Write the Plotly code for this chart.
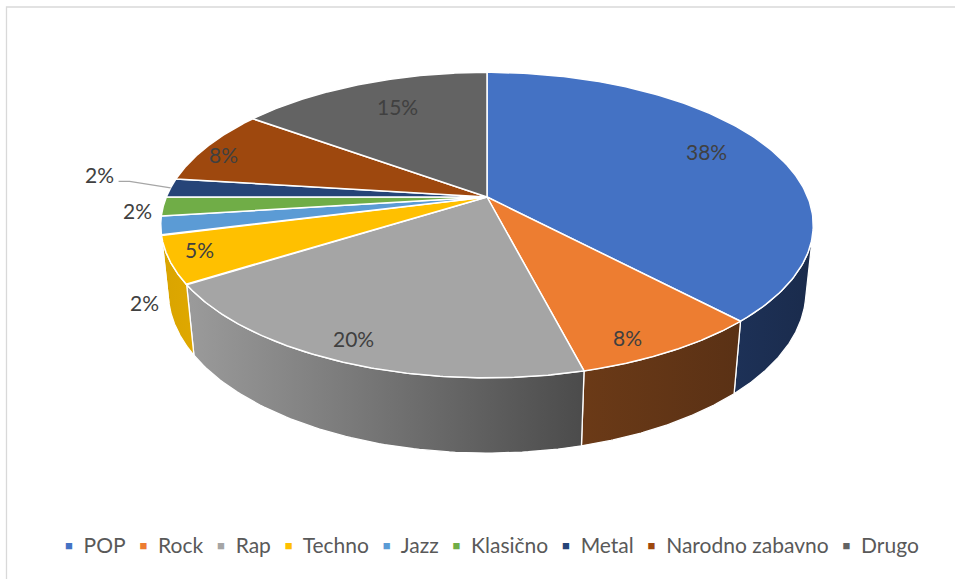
import numpy as np
import plotly.graph_objects as go

# ---- data -------------------------------------------------------------
categories = ["POP", "Rock", "Rap", "Techno", "Jazz", "Klasično", "Metal",
              "Narodno zabavno", "Drugo"]
shares = [38, 8, 20, 5, 2, 2, 2, 8, 15]

# ---- style ------------------------------------------------------------
top_colors = ["#4472C4", "#ED7D31", "#A5A5A5", "#FFC000", "#5B9BD5",
              "#70AD47", "#264478", "#9E480E", "#636363"]
# shaded outer rim of each slice (left -> right gradient)
wall_colors = [("#1d3157", "#1a2b4c"), ("#6b3a17", "#5a3115"),
               ("#9b9b9b", "#4b4b4b"), ("#d9a400", "#dfa800"),
               ("#4f86b9", "#4f86b9"), ("#5f963c", "#5f963c"),
               ("#1f3862", "#1f3862"), ("#843c0b", "#843c0b"),
               ("#525252", "#525252")]

# label placement: radius on the top face plus a small pixel nudge
label_place = {
    "POP": (0.82, -12, -3), "Rock": (0.82, -5, 18), "Rap": (0.82, -21, 11),
    "Techno": (0.82, -31, 1), "Jazz": (1.0, -16, 77), "Klasično": (1.0, -26, 4),
    "Metal": (1.0, -71, -13), "Narodno zabavno": (0.82, -32, 0),
    "Drugo": (0.82, 16, 5),
}

W, H = 955, 579
CX, CY = 487, 197          # screen position of the pie centre
TILT = np.radians(27.4)    # viewing elevation
DIST = 4.83                # camera distance (in radius units)
FOCAL = 1549               # projection scale
THICK = 0.236              # pie thickness (in radius units)
COS_T, SIN_T = np.cos(TILT), np.sin(TILT)


def project(r, phi, y=0.0):
    """Perspective projection of a point on the pie (phi clockwise from 12 o'clock)."""
    x3 = r * np.sin(phi)
    z3 = -r * np.cos(phi)
    depth = z3 * COS_T + y * SIN_T
    up = y * COS_T - z3 * SIN_T
    k = FOCAL / (DIST - depth)
    return CX + x3 * k, CY - up * k


total = float(sum(shares))
bounds = np.concatenate([[0.0], np.cumsum(shares) / total]) * 2 * np.pi

# outer wall is visible where its normal faces the camera
vis_lo = np.arccos(-1.0 / (DIST * COS_T))
vis_hi = 2 * np.pi - vis_lo

fig = go.Figure()

# outer walls
for i, name in enumerate(categories):
    a0, a1 = max(bounds[i], vis_lo), min(bounds[i + 1], vis_hi)
    if a1 <= a0:
        continue
    t = np.linspace(a0, a1, 80)
    xt, yt = project(1.0, t)
    xb, yb = project(1.0, t[::-1], -THICK)
    xs = np.concatenate([xt, xb, xt[:1]])
    ys = np.concatenate([yt, yb, yt[:1]])
    c0, c1 = wall_colors[i]
    fig.add_trace(go.Scatter(
        x=xs, y=ys, mode="lines", fill="toself",
        line=dict(color="white", width=1.3),
        fillgradient=dict(type="horizontal", colorscale=[[0, c0], [1, c1]]),
        hoverinfo="skip", showlegend=False))

# top faces
for i, name in enumerate(categories):
    t = np.linspace(bounds[i], bounds[i + 1], 160)
    xa, ya = project(1.0, t)
    xs = np.concatenate([[CX], xa, [CX]])
    ys = np.concatenate([[CY], ya, [CY]])
    fig.add_trace(go.Scatter(
        x=xs, y=ys, mode="lines", fill="toself", fillcolor=top_colors[i],
        line=dict(color="white", width=1.5),
        hoverinfo="skip", showlegend=False))

# value labels
annotations = []
for i, name in enumerate(categories):
    mid = 0.5 * (bounds[i] + bounds[i + 1])
    r, dx, dy = label_place[name]
    lx, ly = project(r, mid)
    lx, ly = lx + dx, ly + dy
    annotations.append(dict(
        x=lx, y=ly, xref="x", yref="y", text=f"{shares[i]}%", showarrow=False,
        font=dict(family="Lato", size=21, color="#404040"),
        xanchor="center", yanchor="middle"))
    if name == "Metal":
        # leader line from the label to the slice rim
        ex, ey = project(1.0, mid)
        sx, sy = lx + 19, ly + 6.5
        fig.add_trace(go.Scatter(
            x=[sx, sx + 11, ex], y=[sy, sy, ey], mode="lines",
            line=dict(color="#a6a6a6", width=1.2),
            hoverinfo="skip", showlegend=False))

# legend row
legend_items = [
    f'<span style="color:{top_colors[i]};font-size:13px;baseline-shift:3px">■</span>'
    f'\u00a0\u00a0{name}'
    for i, name in enumerate(categories)
]
gap = '<span style="font-size:27px">\u00a0\u00a0</span>'
annotations.append(dict(
    x=492, y=542, xref="x", yref="y",
    text=gap.join(legend_items), showarrow=False,
    font=dict(family="Lato", size=21, color="#595959"),
    xanchor="center", yanchor="middle"))

fig.update_layout(
    width=W, height=H, autosize=False,
    margin=dict(l=0, r=0, t=0, b=0),
    paper_bgcolor="white", plot_bgcolor="white",
    xaxis=dict(range=[0, W], visible=False, fixedrange=True),
    yaxis=dict(range=[H, 0], visible=False, fixedrange=True),
    annotations=annotations,
    shapes=[dict(type="rect", xref="x", yref="y", x0=6.5, y0=7, x1=W + 20, y1=H + 20,
                 line=dict(color="#d9d9d9", width=1.3), fillcolor="rgba(0,0,0,0)",
                 layer="below")],
    showlegend=False,
)

fig.write_html("out.html")
